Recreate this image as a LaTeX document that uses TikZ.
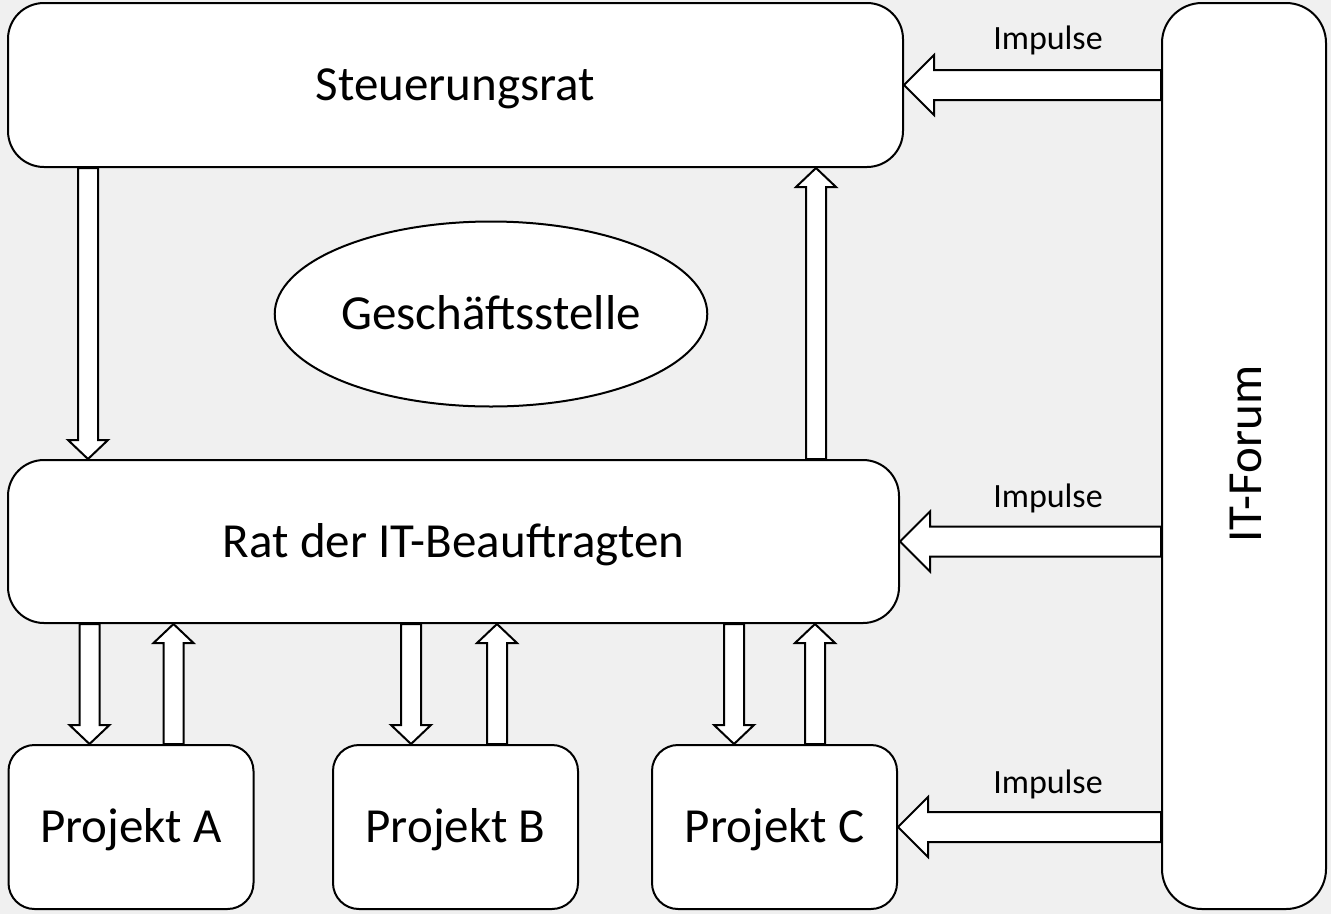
\documentclass[tikz,border=0pt]{standalone}
\usepackage{fontspec}
\setmainfont{Carlito}
\usetikzlibrary{calc,shapes.geometric}

\newcommand{\boxfont}{\fontsize{49}{52}\selectfont}
\newcommand{\impfont}{\fontsize{34}{36}\selectfont}
\definecolor{bggray}{RGB}{240,240,240}

\tikzset{
  box/.style={draw, line width=2pt, fill=white, rounded corners=36pt, inner sep=0pt, font=\boxfont,
              text height=31pt, text depth=0pt},
  projbox/.style={box, rounded corners=26pt, minimum width=245pt, minimum height=164pt},
  % block arrow: shaft half width, head half width, head length
  blockarrow/.style n args={3}{draw, line width=2pt, fill=white, to path={
      ($(\tikztostart)!#1!90:(\tikztotarget)$)
      -- ($(\tikztotarget)!#3!(\tikztostart)!#1!90:(\tikztotarget)$)
      -- ($(\tikztotarget)!#3!(\tikztostart)!#2!90:(\tikztotarget)$)
      -- (\tikztotarget)
      -- ($(\tikztotarget)!#3!(\tikztostart)!#2!-90:(\tikztotarget)$)
      -- ($(\tikztotarget)!#3!(\tikztostart)!#1!-90:(\tikztotarget)$)
      -- ($(\tikztostart)!#1!-90:(\tikztotarget)$) -- cycle}},
  smallarrow/.style={blockarrow={10pt}{20pt}{19pt}},
  bigarrow/.style={blockarrow={15pt}{30pt}{30pt}},
  implabel/.style={font=\impfont, inner sep=0pt}
}

\begin{document}
\begin{tikzpicture}[x=1pt,y=-1pt]
  \fill[bggray] (0,0) rectangle (1331,914);
  \useasboundingbox (0,0) rectangle (1331,914);

  % boxes
  \node[box, minimum width=895pt, minimum height=164pt] (steuer) at (455.5,85) {Steuerungsrat};
  \node[box, minimum width=891pt, minimum height=163pt] (rat) at (453.5,541.5) {Rat der IT-Beauftragten};
  \node[draw, line width=2pt, fill=white, ellipse, minimum width=430pt, minimum height=185pt,
        font=\boxfont, text height=31pt, text depth=0pt] (gs) at (491,314) {Geschäftsstelle};
  \node[projbox] (projA) at (131,827) {Projekt A};
  \node[projbox] (projB) at (455.5,827) {Projekt B};
  \node[projbox] (projC) at (774.5,827) {Projekt C};
  \node[box, rounded corners=40pt, minimum width=164pt, minimum height=906pt] (forum) at (1244,456) {};
  \node[rotate=90, font=\boxfont, text height=31pt, text depth=0pt] (forumtxt) at (1246,454) {IT-Forum};

  % Steuerungsrat <-> Rat
  \coordinate (down1) at ([xshift=81pt]steuer.south west);
  \coordinate (up1) at ([xshift=809pt]rat.north west);
  \draw[smallarrow] (down1) to (down1 |- rat.north);
  \draw[smallarrow] (up1) to (up1 |- steuer.south);

  % Rat <-> Projekte
  \foreach \p/\dx/\ux in {projA/82/166, projB/79/165, projC/83/164}{
    \coordinate (\p-dn) at ([xshift=\dx pt]\p.north west);
    \coordinate (\p-up) at ([xshift=\ux pt]\p.north west);
    \draw[smallarrow] (\p-dn |- rat.south) to (\p-dn);
    \draw[smallarrow] (\p-up) to (\p-up |- rat.south);
  }

  % Impulse
  \foreach \t in {steuer, rat, projC}
    \draw[bigarrow] (forum.west |- \t.east) to (\t.east);
  \node[implabel] (imp1) at (1048,40) {Impulse};
  \node[implabel] (imp2) at (1048,498) {Impulse};
  \node[implabel] (imp3) at (1048,784) {Impulse};
\end{tikzpicture}
\end{document}
